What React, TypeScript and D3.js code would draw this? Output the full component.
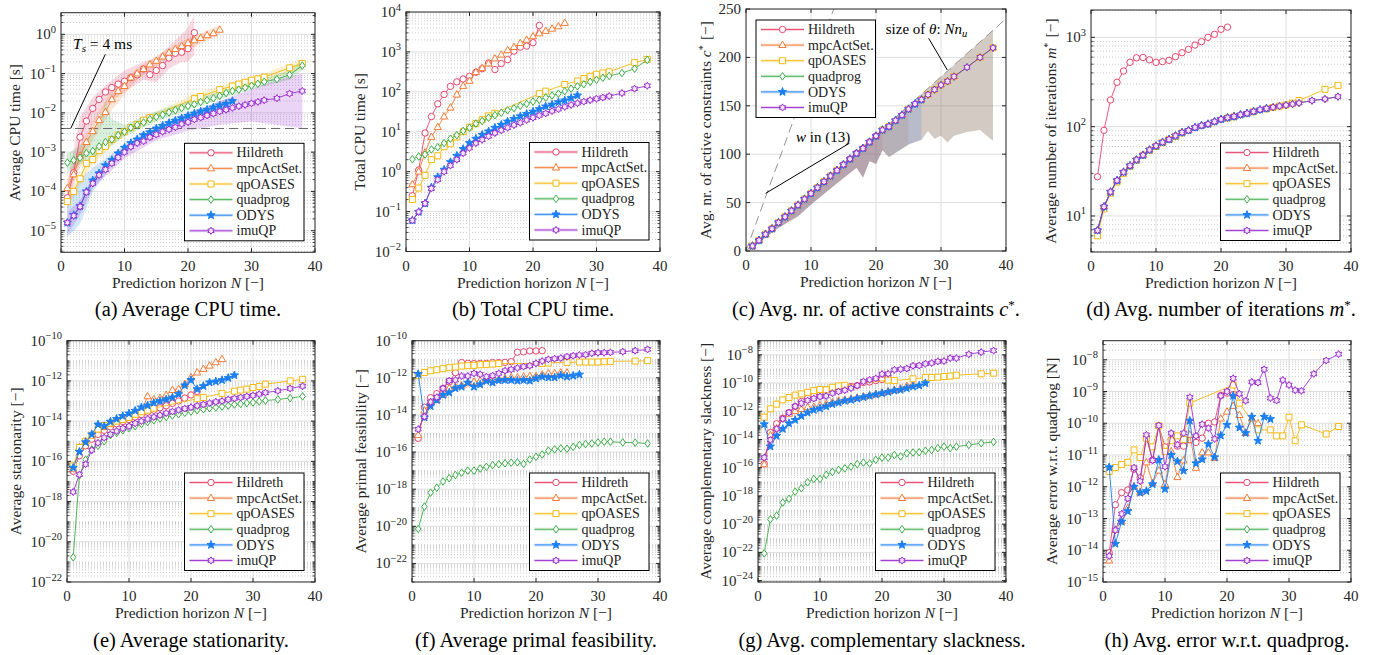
import React from "react";
import * as d3 from "d3";

const FONT = '"Liberation Serif", "DejaVu Serif", "Times New Roman", serif';

// ---------- horizons ----------
const N_H = [1,2,3,4,5,6,7,8,9,10,11,12,13,14,15,16,17,18,19,20,21];
const N_M = [1,2,3,4,5,6,7,8,9,10,11,12,13,14,15,16,17,18,19,20,21,22,23,24,25];
const N_O = [1,2,3,4,5,6,7,8,9,10,11,12,13,14,15,16,17,18,19,20,21,22,23,24,25,26,27];
const N_Q = [1,2,3,4,5,6,7,8,9,10,11,12,13,14,21,22,25,27,28,29,30,31,32,36,38];
const N_L = [1,2,3,4,5,6,7,8,9,10,11,12,13,14,15,16,17,18,19,20,21,22,23,24,25,26,27,28,29,30,31,32,34,36,38];

// ---------- (a) average CPU time ----------
const a_H = [6.9e-5,3.0e-4,2.4e-3,6.2e-3,1.3e-2,2.2e-2,3.4e-2,4.4e-2,5.4e-2,6.4e-2,7.9e-2,9.3e-2,0.13,0.094,0.12,0.16,0.25,0.33,0.35,0.43,1.1];
const a_M = [1.2e-4,2.7e-4,8e-4,1.8e-3,3.4e-3,6.5e-3,1.05e-2,2.2e-2,3.6e-2,4.8e-2,7.9e-2,0.1,0.13,0.17,0.21,0.27,0.34,0.42,0.5,0.6,0.7,0.8,0.94,1.06,1.3];
const a_Q = [5.5e-5,1.0e-4,2.1e-4,5.2e-4,6.5e-4,1.1e-3,1.4e-3,2.1e-3,2.7e-3,3.3e-3,4.2e-3,5.1e-3,6.5e-3,7.6e-3,2.3e-2,2.6e-2,3.9e-2,4.8e-2,5.4e-2,6.0e-2,6.8e-2,7.3e-2,8.1e-2,0.14,0.18];
const a_G = [5.4e-4,6.2e-4,7.2e-4,9.4e-4,1.07e-3,1.4e-3,1.8e-3,2.1e-3,2.7e-3,3.3e-3,4.2e-3,4.9e-3,5.7e-3,6.9e-3,7.9e-3,8.9e-3,1.03e-2,1.17e-2,1.33e-2,1.5e-2,1.65e-2,1.9e-2,2.1e-2,2.35e-2,2.7e-2,3.2e-2,3.6e-2,3.9e-2,4.4e-2,4.9e-2,5.5e-2,6.2e-2,7.2e-2,9.3e-2,0.16];
const a_O = [1.6e-5,2.5e-5,4.2e-5,1.0e-4,1.9e-4,2.9e-4,4.6e-4,6.3e-4,9.3e-4,1.3e-3,1.7e-3,2.1e-3,2.7e-3,3.2e-3,4.0e-3,4.7e-3,5.5e-3,6.3e-3,7.3e-3,8.4e-3,9.6e-3,1.09e-2,1.2e-2,1.37e-2,1.55e-2,1.7e-2,2.0e-2];
const a_I = [1.6e-5,2.4e-5,4.1e-5,9.6e-5,1.6e-4,2.6e-4,3.6e-4,5.2e-4,7.3e-4,1.0e-3,1.37e-3,1.7e-3,1.9e-3,2.4e-3,2.8e-3,3.3e-3,3.8e-3,4.3e-3,5.2e-3,5.8e-3,6.8e-3,7.6e-3,8.6e-3,9.6e-3,1.09e-2,1.2e-2,1.34e-2,1.48e-2,1.6e-2,1.75e-2,1.9e-2,2.1e-2,2.35e-2,3.1e-2,3.6e-2];
const a_Ts = 4e-3;

// (a) min/max bands
const bandA_H_N = [1,3,5,7,10,13,15,17,19,20,21];
const bandA_H_lo = [3e-5,6e-4,5e-3,1.5e-2,3.5e-2,7e-2,6e-2,0.13,0.2,0.2,0.3];
const bandA_H_hi = [1.5e-4,8e-3,2.5e-2,5e-2,0.12,0.2,0.25,0.5,1.0,1.5,3.0];
const bandA_M_N = [1,3,5,8,12,16,20,25];
const bandA_M_lo = [8e-5,4e-4,2e-3,1.2e-2,7e-2,0.2,0.4,1.0];
const bandA_M_hi = [2e-4,1.5e-3,6e-3,4e-2,0.14,0.35,0.8,1.7];
const bandA_Q_N = [1,5,10,14,21,27,32,38];
const bandA_Q_lo = [4e-5,5e-4,2.8e-3,6.5e-3,1.8e-2,4e-2,6.5e-2,0.13];
const bandA_Q_hi = [8e-5,9e-4,4e-3,9e-3,3e-2,6e-2,0.1,0.24];
const bandA_G_N = [1,3,5,6,7,8,10,15,20,25,30,36,38];
const bandA_G_lo = [3e-4,5e-4,7e-4,9e-4,1.2e-3,1.5e-3,2.5e-3,6e-3,1.2e-2,2.2e-2,4e-2,7e-2,0.12];
const bandA_G_hi = [9e-4,1.5e-3,3e-3,6e-3,2e-2,7e-3,5e-3,1.1e-2,2e-2,3.5e-2,6e-2,0.12,0.23];
const bandA_O_N = [1,2,3,5,8,12,18,27];
const bandA_O_lo = [7e-6,1e-5,1.5e-5,1e-4,4.5e-4,1.6e-3,5e-3,1.7e-2];
const bandA_O_hi = [5e-5,1e-4,2e-4,4e-4,9e-4,2.8e-3,8e-3,2.5e-2];
const bandA_I_N = [1,3,5,10,15,20,25,30,34,38];
const bandA_I_lo = [8e-6,2.5e-5,1.2e-4,7e-4,2e-3,3.5e-3,5e-3,6e-3,5e-3,4e-3];
const bandA_I_hi = [3e-5,6e-5,2.2e-4,1.4e-3,4e-3,9e-3,2e-2,4e-2,7e-2,0.1];

// ---------- (b) total CPU time ----------
const b_H = [0.25,1.1,9.3,24,50,86,137,178,210,245,310,380,530,360,510,640,1050,1320,1400,1700,4600];
const b_M = [0.48,1.0,3.0,7.4,13,24,40,85,140,188,310,390,510,680,850,1100,1320,1670,2000,2450,2900,3350,3800,4350,5300];
const b_Q = [0.2,0.39,0.81,2.0,2.5,4.2,5.0,7.4,10,13,16,20,25,29,90,104,153,187,215,245,275,297,318,540,650];
const b_G = [2.05,2.4,2.7,3.6,4.1,5.2,6.7,8.2,10.5,12.6,16,18.6,22.5,26,30,34.5,39,45,50,57,63,72,81,90,104,120,138,155,178,200,225,250,296,380,630];
const b_O = [0.06,0.098,0.16,0.4,0.73,1.12,1.74,2.5,3.7,5.2,6.7,8.4,10.2,12.6,15,18,21,24.5,28,32,37,43,48,55,61,70,81];
const b_I = [0.06,0.098,0.16,0.38,0.63,1.0,1.42,2.0,2.9,3.9,5.2,6.3,7.7,9.3,10.9,12.6,14.7,16.8,19.6,22.5,25.7,28.8,33,37,42,47,52,57,62,67,72,78,93,120,142];

// ---------- (c) active constraints ----------
const c_all = [5.2,11,17.3,23,29.4,35.3,41.5,47.4,53.6,59.5,65.4,71.6,77.5,83.3,89.2,95.1,101,106,112.6,118.8,125,128.6,134.8,140.4,146.6,152,156.3,161.5,166.7,171.5,175.3,180.2,189.8,200,209.9];
const cBandN = [1,5,8,10,14,17,18,19,20,21,22,25,27,28,29,30,31,32,34,36,38];
const cBandLo = [4,24,36,48,70,86,76,93,90,104,97,110,115,124,116,119,112,119,123,125,114];
const cBandHi = [6,30,48,60,84,102,108,114,120,126,132,150,162,168,174,180,186,192,204,216,228];
const thetaN = [0,40];
const thetaV = [0,240];
const wN = [0,13.5];
const wV = [0,250];

// ---------- (d) iterations ----------
const d_H = [27.5,91,199,314,420,525,590,595,560,525,535,553,607,673,734,820,895,1000,1080,1230,1300];
const d_all = [6.9,12.7,18.6,25,31,36.6,42.5,48,55,61,67,72,79,86,91,98,103,107,114,121,126,130,136,141,148,155,160,165,170,174,179,184,196,204,217];
const d_Q = [6.0,12,18,24,30,36,42,48,54,60,66,72,78,85,125,129,147,158,164,170,175,183,196,262,290];

// ---------- (e) stationarity ----------
const e_H = [3.2e-17,1.9e-16,5.9e-16,1.26e-15,2.2e-15,3.5e-15,5.2e-15,7.4e-15,9.6e-15,1.2e-14,1.6e-14,2.1e-14,2.8e-14,3.5e-14,4.6e-14,5.8e-14,7.6e-14,1.0e-13,1.4e-13,2.0e-13,3.0e-13];
const e_M = [4e-17,4.9e-16,1.0e-15,1.9e-15,3.8e-15,5e-15,7e-15,1e-14,1.3e-14,1.6e-14,2.2e-14,3e-14,1.7e-13,1.2e-13,1.4e-13,2.0e-13,3.5e-13,3.9e-13,6.9e-13,1.5e-12,2.6e-12,3.9e-12,5.7e-12,8.4e-12,1.2e-11];
const e_Q = [6e-17,4.9e-16,1e-15,2e-15,4e-15,6e-15,8e-15,1.0e-14,1.2e-14,1.5e-14,2.2e-14,2.9e-14,3.5e-14,4.4e-14,1.3e-13,1.5e-13,2.4e-13,3.1e-13,3.5e-13,3.9e-13,4.7e-13,5.3e-13,6.9e-13,1.0e-12,1.2e-12];
const e_G = [1.7e-21,2.0e-17,1.2e-16,3.9e-16,5.9e-16,1.0e-15,2.0e-15,2.6e-15,3.5e-15,4.5e-15,5.6e-15,7.2e-15,9e-15,1.1e-14,1.35e-14,1.6e-14,1.9e-14,2.2e-14,2.6e-14,3.0e-14,3.5e-14,3.9e-14,4.4e-14,4.8e-14,5.3e-14,5.9e-14,6.7e-14,7.2e-14,7.9e-14,8.5e-14,9.5e-14,1.06e-13,1.2e-13,1.4e-13,1.7e-13];
const e_O = [4.8e-17,3e-16,9e-16,2.2e-15,6.8e-15,5.6e-15,9.4e-15,1.3e-14,1.8e-14,2.4e-14,3.3e-14,4.8e-14,6e-14,8.2e-14,9.9e-14,1.2e-13,1.5e-13,2.2e-13,6e-13,1.1e-12,3.9e-13,5.5e-13,8.4e-13,9.4e-13,1.1e-12,1.4e-12,1.9e-12];
const e_I = [3e-18,2.2e-17,7.2e-17,3.6e-16,8.3e-16,1.5e-15,2.2e-15,3.2e-15,4.4e-15,5.6e-15,7.7e-15,1.0e-14,1.27e-14,1.6e-14,2e-14,2.5e-14,3.0e-14,3.6e-14,4.2e-14,4.9e-14,5.8e-14,6.7e-14,7.9e-14,9.1e-14,1.0e-13,1.2e-13,1.35e-13,1.5e-13,1.7e-13,1.9e-13,2.2e-13,2.6e-13,3.2e-13,4.2e-13,5.5e-13];

// ---------- (f) primal feasibility ----------
const f_H = [5.5e-16,2.6e-14,8.5e-14,1.4e-13,2.7e-13,6e-13,1.9e-12,6.6e-12,6e-12,5.8e-12,6e-12,6e-12,6.6e-12,6.6e-12,6.8e-12,7.4e-12,2.4e-11,2.5e-11,2.8e-11,2.8e-11,2.9e-11];
const f_M = [8.3e-16,1.7e-14,5e-14,6.3e-14,1.2e-13,2.7e-13,3.3e-13,3.8e-13,5e-13,6e-13,7e-13,8.3e-13,7.6e-13,8.6e-13,9.3e-13,1.05e-12,1.05e-12,1.15e-12,1.25e-12,1.25e-12,1.5e-12,1.75e-12,1.75e-12,1.9e-12,1.9e-12];
const f_Q = [1.3e-12,1.95e-12,2.4e-12,2.7e-12,3.1e-12,3.5e-12,3.8e-12,4.3e-12,4.5e-12,4.7e-12,5.1e-12,5.3e-12,5.5e-12,5.8e-12,6e-12,6.3e-12,6.8e-12,7.1e-12,7.1e-12,7.1e-12,7.1e-12,7.4e-12,7.7e-12,8e-12,8.4e-12];
const f_G = [7.2e-21,1.15e-19,6.5e-19,1.2e-18,2.6e-18,3.9e-18,5.8e-18,7.7e-18,1.0e-17,1.0e-17,1.3e-17,1.6e-17,2e-17,2.2e-17,2.5e-17,2.7e-17,2.8e-17,2.3e-17,4.0e-17,5.6e-17,7.4e-17,1.2e-16,1.4e-16,1.6e-16,1.5e-16,1.9e-16,2.4e-16,2.7e-16,2.9e-16,3.3e-16,3.6e-16,3.6e-16,3.3e-16,3.2e-16,2.9e-16];
const f_O = [1.6e-12,7.4e-15,3e-14,6.3e-14,1.2e-13,1.6e-13,2.7e-13,3.3e-13,5.5e-13,3.3e-13,4.4e-13,6.7e-13,5.5e-13,7.3e-13,7.6e-13,7.6e-13,7e-13,7.6e-13,7e-13,9.3e-13,1.15e-12,1.05e-12,1.05e-12,1.35e-12,1.15e-12,1.3e-12,1.5e-12];
const f_I = [1.7e-15,8e-15,5e-14,9e-14,2.7e-13,7e-13,7.6e-13,1.25e-12,1.25e-12,1.75e-12,1.55e-12,1.15e-12,1.3e-12,1.75e-12,2.4e-12,2.8e-12,3.4e-12,4e-12,4.5e-12,6e-12,8e-12,9.9e-12,1.07e-11,1.16e-11,1.37e-11,1.55e-11,1.7e-11,1.75e-11,2.1e-11,2.25e-11,2.25e-11,2.35e-11,2.55e-11,2.9e-11,3.4e-11];

// ---------- (g) complementary slackness ----------
const g_H = [1.9e-16,3.1e-14,1.3e-13,3.2e-13,8.1e-13,2.2e-12,4.9e-12,8.4e-12,1.2e-11,2.1e-11,3.3e-11,4e-11,5e-11,5.7e-11,5.7e-11,6.6e-11,1.1e-10,1.2e-10,1.5e-10,1.8e-10,2.2e-10];
const g_M = [1.7e-16,2e-14,6e-14,3e-13,6.6e-13,1e-12,1.4e-12,1.9e-12,2e-12,2.6e-12,3.2e-12,4.2e-12,5.5e-12,6.5e-12,7.7e-12,9e-12,1.1e-11,1.3e-11,1.6e-11,2e-11,2.5e-11,3.2e-11,4e-11,6e-11,8e-11];
const g_Q = [3.8e-13,1.5e-12,3.2e-12,6.4e-12,9.4e-12,1.4e-11,1.7e-11,2.2e-11,2.9e-11,3.5e-11,3.3e-11,5e-11,6.3e-11,7e-11,1.6e-10,1.5e-10,2e-10,2.5e-10,2.5e-10,2.6e-10,2.9e-10,3.1e-10,3.6e-10,4.5e-10,5e-10];
const g_G = [8.5e-23,2.2e-20,4e-20,3.4e-19,6.2e-19,2e-18,3.5e-18,9.3e-18,1.6e-17,1.6e-17,3.1e-17,5e-17,7e-17,9e-17,1.2e-16,1.8e-16,2.3e-16,2e-16,3.6e-16,5.2e-16,5.2e-16,8e-16,6.3e-16,1.05e-15,1.2e-15,1.25e-15,1.6e-15,1.8e-15,2.4e-15,3.1e-15,2.4e-15,3.1e-15,4.1e-15,5.4e-15,6.7e-15];
const g_O = [1.2e-13,3.2e-15,1.8e-14,5.6e-14,1.4e-13,2.4e-13,4.6e-13,8e-13,1.25e-12,1.6e-12,2.2e-12,3.2e-12,4.1e-12,5.5e-12,6.4e-12,8e-12,9.9e-12,1.25e-11,1.55e-11,1.9e-11,2.3e-11,2.9e-11,3.3e-11,4.3e-11,5.7e-11,6.6e-11,9.8e-11];
const g_I = [5.2e-16,9.3e-15,5.6e-14,2.9e-13,8.1e-13,2.2e-12,3.7e-12,5.8e-12,8e-12,1.1e-11,1.2e-11,1.9e-11,2.5e-11,3.1e-11,4.3e-11,6.6e-11,1.3e-10,1.7e-10,2.1e-10,4.3e-10,4.5e-10,8.6e-10,9.6e-10,1.07e-9,1.65e-9,1.75e-9,2.3e-9,2.6e-9,3.4e-9,3.6e-9,5.8e-9,5.8e-9,1.1e-8,1.55e-8,2e-8];

// ---------- (h) error w.r.t. quadprog ----------
const h_H = [8.3e-15,2.7e-13,6.5e-13,7.9e-13,3.6e-12,1.9e-12,3.4e-11,7e-12,8.3e-11,1.8e-11,3.1e-11,1.9e-11,1.9e-11,3e-11,2.5e-11,3.4e-11,1e-10,1.1e-10,7.5e-10,8.9e-10,8e-10];
const h_M = [4.7e-15,4.3e-14,8e-14,2.1e-13,1e-12,6.5e-13,5.8e-12,1.3e-12,3.2e-12,1.2e-12,1.3e-11,2e-12,6.7e-12,4.3e-11,3.9e-12,1.2e-11,1.2e-11,7.9e-12,1.4e-10,2.3e-10,3.5e-10,1.8e-10,4.9e-11,1.4e-10,1e-10];
const h_Q = [3e-12,4e-12,5e-12,5.9e-12,1.45e-11,8.3e-12,3.4e-11,1.8e-11,8.3e-11,1.3e-11,2.8e-11,4e-11,3.1e-11,4.3e-10,1.6e-9,4.3e-10,6.2e-11,6.2e-11,4e-11,4e-11,1.55e-10,2.8e-11,8.9e-11,4.6e-11,7.9e-11];
const h_G: number[] = [];
const h_O = [4.1e-12,1.6e-14,8e-14,1.7e-13,1e-12,6.5e-13,7.3e-13,1.2e-12,7e-12,8.5e-13,1e-11,6.3e-12,3.2e-12,1.2e-10,5.5e-12,7.3e-12,2.2e-11,8.5e-12,4.1e-11,8.9e-11,7.3e-10,7.3e-11,4.9e-11,1.6e-10,2.8e-11,1.6e-10,1.35e-10];
const h_I = [6.6e-15,4.3e-14,1.4e-13,4.3e-13,4e-12,1.5e-12,4.3e-11,6.7e-12,8.5e-11,4.3e-12,4.9e-11,2.1e-11,4.9e-11,6.6e-10,4e-11,9.3e-11,7e-11,3.2e-11,7.3e-10,1e-9,2.6e-9,8.5e-10,5.1e-10,2e-9,1.9e-9,5e-9,6.2e-10,5.2e-10,2.3e-9,1.6e-9,1.1e-9,1.05e-9,3.6e-9,9.5e-9,1.5e-8];

// ---------- series ----------
const SERIES = [
  { key: "H", name: "Hildreth", color: "#e8456c", marker: "circle", fill: "#ffffff" },
  { key: "M", name: "mpcActSet.", color: "#f47b35", marker: "triangle", fill: "#ffffff" },
  { key: "Q", name: "qpOASES", color: "#f5b90f", marker: "square", fill: "#ffffff" },
  { key: "G", name: "quadprog", color: "#3eae4a", marker: "diamond", fill: "#ffffff" },
  { key: "O", name: "ODYS", color: "#1b7ff2", marker: "star", fill: "#1b7ff2" },
  { key: "I", name: "imuQP", color: "#9a2fd0", marker: "hexagram", fill: "#f3e6fb" },
];
const N_OF: any = { H: N_H, M: N_M, Q: N_Q, G: N_L, O: N_O, I: N_L };

const pick = (vals: number[], ns: number[]) => ns.map((n) => vals[N_L.indexOf(n)]);

const DATA_A = { H: a_H, M: a_M, Q: a_Q, G: a_G, O: a_O, I: a_I };
const DATA_B = { H: b_H, M: b_M, Q: b_Q, G: b_G, O: b_O, I: b_I };
const DATA_C = { H: pick(c_all, N_H), M: pick(c_all, N_M), Q: pick(c_all, N_Q), G: c_all, O: pick(c_all, N_O), I: c_all };
const DATA_D = { H: d_H, M: pick(d_all, N_M), Q: d_Q, G: d_all, O: pick(d_all, N_O), I: d_all };
const DATA_E = { H: e_H, M: e_M, Q: e_Q, G: e_G, O: e_O, I: e_I };
const DATA_F = { H: f_H, M: f_M, Q: f_Q, G: f_G, O: f_O, I: f_I };
const DATA_G = { H: g_H, M: g_M, Q: g_Q, G: g_G, O: g_O, I: g_I };
const DATA_H = { H: h_H, M: h_M, Q: h_Q, G: h_G, O: h_O, I: h_I };

const BANDS_A = {
  H: { n: bandA_H_N, lo: bandA_H_lo, hi: bandA_H_hi },
  M: { n: bandA_M_N, lo: bandA_M_lo, hi: bandA_M_hi },
  Q: { n: bandA_Q_N, lo: bandA_Q_lo, hi: bandA_Q_hi },
  G: { n: bandA_G_N, lo: bandA_G_lo, hi: bandA_G_hi },
  O: { n: bandA_O_N, lo: bandA_O_lo, hi: bandA_O_hi },
  I: { n: bandA_I_N, lo: bandA_I_lo, hi: bandA_I_hi },
};
const cBandFor = (maxN: number) => {
  const idx = cBandN.map((n, i) => i).filter((i) => cBandN[i] <= maxN);
  return { n: idx.map((i) => cBandN[i]), lo: idx.map((i) => cBandLo[i]), hi: idx.map((i) => cBandHi[i]) };
};
const BANDS_C = { H: cBandFor(21), M: cBandFor(25), Q: cBandFor(38), G: cBandFor(38), O: cBandFor(27), I: cBandFor(38) };

// ---------- markers ----------
function starPts(R: number, r: number, n: number) {
  const pts: string[] = [];
  for (let i = 0; i < 2 * n; i++) {
    const a = ((-90 + (i * 180) / n) * Math.PI) / 180;
    const rad = i % 2 === 0 ? R : r;
    pts.push(`${(rad * Math.cos(a)).toFixed(2)},${(rad * Math.sin(a)).toFixed(2)}`);
  }
  return "M" + pts.join("L") + "Z";
}
const MARKERS: any = {
  circle: "M3.2,0A3.2,3.2 0 1,1 -3.2,0A3.2,3.2 0 1,1 3.2,0Z",
  triangle: "M0,-4L3.6,2.4L-3.6,2.4Z",
  square: "M-3,-3H3V3H-3Z",
  diamond: "M0,-3.8L2.7,0L0,3.8L-2.7,0Z",
  star: starPts(4.3, 1.8, 5),
  hexagram: starPts(3.6, 2.1, 6),
};

const SUP = (t: string) => (
  <>
    <tspan dy={-5} fontSize={10}>{t}</tspan>
    <tspan dy={5}>{"\u200a"}</tspan>
  </>
);

// ---------- panels ----------
const PANELS: any[] = [
  { id: "a", x0: 61, x1: 315, y0: 12.7, y1: 252.3, log: true, dom: [-5.55, 0.55], ticks: [-5, -4, -3, -2, -1, 0], data: DATA_A, bands: BANDS_A, bandOp: 0.2, legend: "br", ylx: 20,
    ylabel: <>Average CPU time [s]</>, caption: <>(a) Average CPU time.</> },
  { id: "b", x0: 406, x1: 660, y0: 12, y1: 251.5, log: true, dom: [-2, 4], ticks: [-2, -1, 0, 1, 2, 3, 4], data: DATA_B, legend: "br", ylx: 365,
    ylabel: <>Total CPU time [s]</>, caption: <>(b) Total CPU time.</> },
  { id: "c", x0: 746, x1: 1006, y0: 9, y1: 251, log: false, dom: [0, 250], ticks: [0, 50, 100, 150, 200, 250], data: DATA_C, bands: BANDS_C, bandOp: 0.16, legend: "tl", ylx: 711,
    ylabel: <>Avg. nr. of active constraints <tspan fontStyle="italic">c</tspan>{SUP("*")} [−]</>,
    caption: <>(c) Avg. nr. of active constraints <tspan fontStyle="italic">c</tspan><tspan dy={-7} fontSize={13}>*</tspan><tspan dy={7}>.</tspan></> },
  { id: "d", x0: 1091, x1: 1351, y0: 10, y1: 252, log: true, dom: [0.597, 3.306], ticks: [1, 2, 3], data: DATA_D, legend: "br", ylx: 1056,
    ylabel: <>Average number of iterations <tspan fontStyle="italic">m</tspan>{SUP("*")} [−]</>,
    caption: <>(d) Avg. number of iterations <tspan fontStyle="italic">m</tspan><tspan dy={-7} fontSize={13}>*</tspan><tspan dy={7}>.</tspan></> },
  { id: "e", x0: 67, x1: 315, y0: 340.7, y1: 582, log: true, dom: [-22, -10], ticks: [-22, -20, -18, -16, -14, -12, -10], data: DATA_E, legend: "br", ylx: 21,
    ylabel: <>Average stationarity [−]</>, caption: <>(e) Average stationarity.</> },
  { id: "f", x0: 412, x1: 660, y0: 340.7, y1: 582, log: true, dom: [-23, -10], ticks: [-22, -20, -18, -16, -14, -12, -10], data: DATA_F, legend: "br", ylx: 366,
    ylabel: <>Average primal feasibility [−]</>, caption: <>(f) Average primal feasibility.</> },
  { id: "g", x0: 758, x1: 1006, y0: 340.7, y1: 582, log: true, dom: [-24.1, -7], ticks: [-24, -22, -20, -18, -16, -14, -12, -10, -8], data: DATA_G, legend: "br", ylx: 711,
    ylabel: <>Average complementary slackness [−]</>, caption: <>(g) Avg. complementary slackness.</> },
  { id: "h", x0: 1103, x1: 1351, y0: 340.7, y1: 582, log: true, dom: [-15, -7.4], ticks: [-15, -14, -13, -12, -11, -10, -9, -8], data: DATA_H, legend: "br", ylx: 1057,
    ylabel: <>Average error w.r.t. quadprog [N]</>, caption: <>(h) Avg. error w.r.t. quadprog.</> },
];

const X_TICKS = [0, 10, 20, 30, 40];

function Legend({ lx, ly }: any) {
  return (
    <g>
      <rect x={lx} y={ly} width={119.5} height={97.5} fill="#fff" stroke="#000" strokeWidth={1} />
      {SERIES.map((s, i) => {
        const yy = ly + 9.5 + i * 15.6;
        return (
          <g key={s.key}>
            <line x1={lx + 5} x2={lx + 48} y1={yy} y2={yy} stroke={s.color} strokeOpacity={0.22} strokeWidth={3} />
            <line x1={lx + 5} x2={lx + 48} y1={yy} y2={yy} stroke={s.color} strokeWidth={0.9} />
            <path d={MARKERS[s.marker]} transform={`translate(${lx + 26.5},${yy})`} fill={s.fill} stroke={s.color} strokeWidth={1} />
            <text x={lx + 52} y={yy + 4.6} fontSize={14} fill="#222" fontFamily={FONT}>{s.name}</text>
          </g>
        );
      })}
    </g>
  );
}

function Panel({ p }: any) {
  const x = d3.scaleLinear().domain([0, 40]).range([p.x0, p.x1]);
  const y: any = p.log
    ? d3.scaleLog().domain([10 ** p.dom[0], 10 ** p.dom[1]]).range([p.y1, p.y0])
    : d3.scaleLinear().domain(p.dom).range([p.y1, p.y0]);
  const clipId = `clip-${p.id}`;
  const major: number[] = p.log ? p.ticks.map((e: number) => 10 ** e) : p.ticks;
  const minor: number[] = [];
  if (p.log) {
    for (let e = Math.floor(p.dom[0]); e <= Math.ceil(p.dom[1]); e++) {
      for (let m = 1; m <= 9; m++) {
        const lv = Math.log10(m) + e;
        if (lv < p.dom[0] - 1e-9 || lv > p.dom[1] + 1e-9) continue;
        if (m === 1 && p.ticks.includes(e)) continue;
        minor.push(m * 10 ** e);
      }
    }
  }
  const line = d3.line<any>().x((d) => x(d[0])).y((d) => y(d[1]));
  const area = d3.area<any>().x((d) => x(d[0])).y0((d) => y(d[1])).y1((d) => y(d[2]));
  const cx = (p.x0 + p.x1) / 2;
  const cy = (p.y0 + p.y1) / 2;
  const lx = p.legend === "tl" ? p.x0 + 10 : p.x1 - 11 - 119.5;
  const ly = p.legend === "tl" ? p.y0 + 11 : p.y1 - 11.5 - 97.5;
  const ink = "#262626";

  return (
    <g fontFamily={FONT}>
      <defs>
        <clipPath id={clipId}>
          <rect x={p.x0} y={p.y0} width={p.x1 - p.x0} height={p.y1 - p.y0} />
        </clipPath>
      </defs>
      <rect x={p.x0} y={p.y0} width={p.x1 - p.x0} height={p.y1 - p.y0} fill="#fff" />
      {/* grid */}
      <g clipPath={`url(#${clipId})`}>
        {minor.map((v, i) => (
          <line key={"mn" + i} x1={p.x0} x2={p.x1} y1={y(v)} y2={y(v)} stroke="#b8b8b8" strokeWidth={0.7} strokeDasharray="1 2" />
        ))}
        {major.map((v, i) => (
          <line key={"mj" + i} x1={p.x0} x2={p.x1} y1={y(v)} y2={y(v)} stroke="#dedede" strokeWidth={1} />
        ))}
        {X_TICKS.map((t) => (
          <line key={"vx" + t} x1={x(t)} x2={x(t)} y1={p.y0} y2={p.y1} stroke="#dedede" strokeWidth={1} />
        ))}
      </g>
      <g clipPath={`url(#${clipId})`}>
        {p.bands &&
          SERIES.map((s) => {
            const b = p.bands[s.key];
            const pts = b.n.map((n: number, i: number) => [n, b.lo[i], b.hi[i]]);
            return <path key={"band" + s.key} d={area(pts) || ""} fill={s.color} fillOpacity={p.bandOp} stroke="none" />;
          })}
        {p.id === "a" && (
          <line x1={x(0)} x2={x(40)} y1={y(a_Ts)} y2={y(a_Ts)} stroke="#6a6a6a" strokeWidth={1} strokeDasharray="9 5" />
        )}
        {p.id === "c" && (
          <>
            <line x1={x(thetaN[0])} y1={y(thetaV[0])} x2={x(thetaN[1])} y2={y(thetaV[1])} stroke="#8a8a8a" strokeWidth={0.9} strokeDasharray="9 5" />
            <line x1={x(wN[0])} y1={y(wV[0])} x2={x(wN[1])} y2={y(wV[1])} stroke="#8a8a8a" strokeWidth={0.9} strokeDasharray="9 5" />
          </>
        )}
        {SERIES.map((s) => {
          const vals: number[] = p.data[s.key];
          const ns: number[] = N_OF[s.key];
          if (!vals || vals.length === 0) return null;
          const pts = vals.map((v, i) => [ns[i], v]);
          return (
            <g key={"s" + s.key}>
              <path d={line(pts) || ""} fill="none" stroke={s.color} strokeWidth={0.9} />
              {pts.map((d, i) => (
                <path key={i} d={MARKERS[s.marker]} transform={`translate(${x(d[0])},${y(d[1])})`} fill={s.fill} stroke={s.color} strokeWidth={1} />
              ))}
            </g>
          );
        })}
      </g>
      <rect x={p.x0} y={p.y0} width={p.x1 - p.x0} height={p.y1 - p.y0} fill="none" stroke={ink} strokeWidth={1} />
      {X_TICKS.map((t) => (
        <g key={"xt" + t}>
          <line x1={x(t)} x2={x(t)} y1={p.y1} y2={p.y1 - 4} stroke={ink} />
          <line x1={x(t)} x2={x(t)} y1={p.y0} y2={p.y0 + 4} stroke={ink} />
          <text x={x(t)} y={p.y1 + 19} fontSize={15} textAnchor="middle" fill={ink} fontFamily={FONT}>{t}</text>
        </g>
      ))}
      {minor.map((v, i) => (
        <g key={"mt" + i}>
          <line x1={p.x0} x2={p.x0 + 2.5} y1={y(v)} y2={y(v)} stroke={ink} strokeWidth={0.8} />
          <line x1={p.x1} x2={p.x1 - 2.5} y1={y(v)} y2={y(v)} stroke={ink} strokeWidth={0.8} />
        </g>
      ))}
      {major.map((v, i) => (
        <g key={"yt" + i}>
          <line x1={p.x0} x2={p.x0 + 4} y1={y(v)} y2={y(v)} stroke={ink} />
          <line x1={p.x1} x2={p.x1 - 4} y1={y(v)} y2={y(v)} stroke={ink} />
          {p.log ? (
            <text x={p.x0 - 5} y={y(v) + 5} fontSize={15} textAnchor="end" fill={ink} fontFamily={FONT}>
              10<tspan dy={-6.5} fontSize={10.5}>{p.ticks[i] < 0 ? "−" + Math.abs(p.ticks[i]) : String(p.ticks[i])}</tspan>
            </text>
          ) : (
            <text x={p.x0 - 5} y={y(v) + 5} fontSize={15} textAnchor="end" fill={ink} fontFamily={FONT}>{v}</text>
          )}
        </g>
      ))}
      <text x={cx} y={p.y1 + 36} fontSize={15.5} textAnchor="middle" fill={ink} fontFamily={FONT}>
        Prediction horizon <tspan fontStyle="italic">N</tspan> [−]
      </text>
      <text x={p.ylx} y={cy} fontSize={15.5} textAnchor="middle" fill={ink} fontFamily={FONT} transform={`rotate(-90 ${p.ylx} ${cy})`}>
        {p.ylabel}
      </text>
      {p.id === "a" && (
        <g>
          <line x1={x(1.53)} y1={y(a_Ts)} x2={x(6.98)} y2={y(0.31)} stroke="#000" strokeWidth={1} />
          <text x={x(1.9)} y={y(0.42)} fontSize={15.5} fill="#000" fontFamily={FONT}>
            <tspan fontStyle="italic">T</tspan><tspan fontStyle="italic" fontSize={11} dy={3}>s</tspan><tspan dy={-3}> = 4 ms</tspan>
          </text>
        </g>
      )}
      {p.id === "c" && (
        <g>
          <line x1={x(28.1)} y1={y(219.7)} x2={x(30.97)} y2={y(187)} stroke="#000" strokeWidth={1} />
          <text x={x(21.5)} y={y(224)} fontSize={15} fill="#000" fontFamily={FONT}>
            size of <tspan fontStyle="italic">θ</tspan>: <tspan fontStyle="italic">Nn</tspan><tspan fontStyle="italic" fontSize={10.5} dy={3}>u</tspan>
          </text>
          <line x1={x(15.9)} y1={y(111.3)} x2={x(3.03)} y2={y(59.6)} stroke="#000" strokeWidth={1} />
          <text x={x(7.7)} y={y(112.5)} fontSize={15} fill="#000" fontFamily={FONT}>
            <tspan fontStyle="italic">w</tspan> in (13)
          </text>
        </g>
      )}
      <Legend lx={lx} ly={ly} />
      <text x={cx} y={p.id < "e" ? 316 : 647} fontSize={20.5} textAnchor="middle" fill="#000" fontFamily={FONT}>
        {p.caption}
      </text>
    </g>
  );
}

export default function App() {
  return (
    <svg width={1383} height={655} viewBox="0 0 1383 655" style={{ position: "absolute", left: 0, top: 0, background: "#fff", fontFamily: FONT }}>
      <rect x={0} y={0} width={1383} height={655} fill="#fff" />
      {PANELS.map((p) => (
        <Panel key={p.id} p={p} />
      ))}
    </svg>
  );
}
